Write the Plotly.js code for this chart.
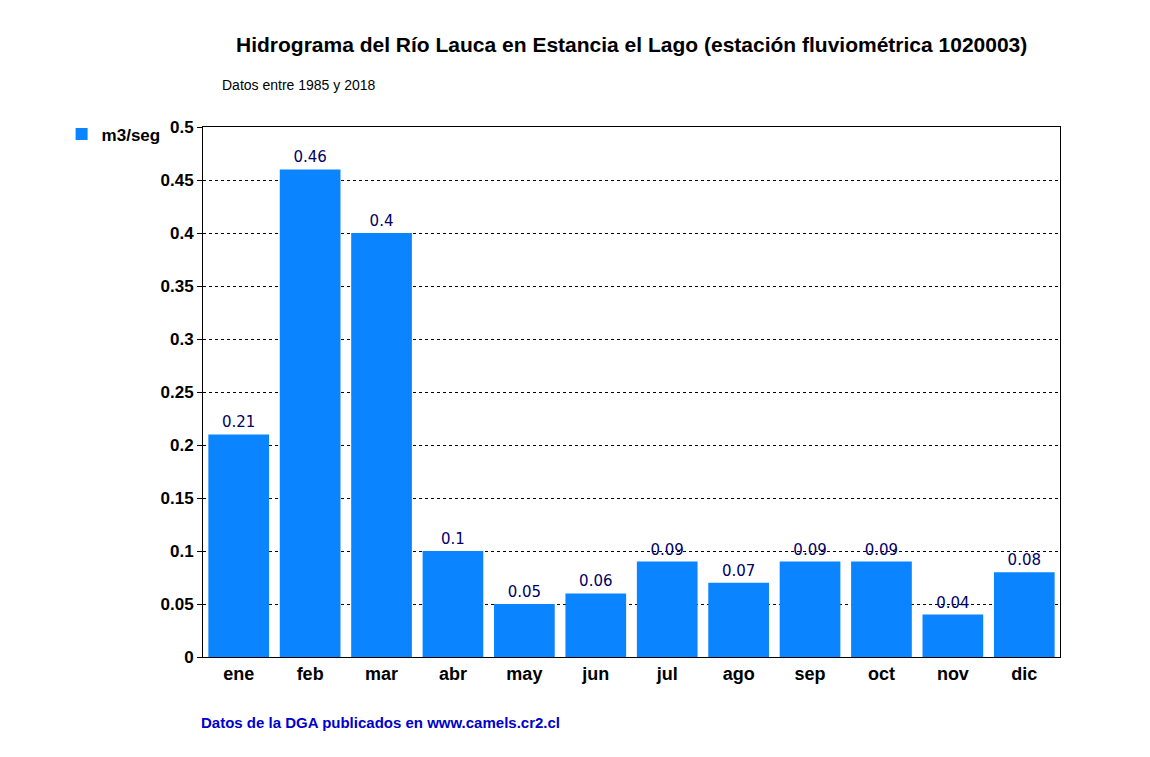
<!DOCTYPE html>
<html><head><meta charset="utf-8">
<script src="https://cdn.plot.ly/plotly-3.0.1.min.js"></script>
<style>body{margin:0;background:#fff}</style></head>
<body><div id="c" style="width:1150px;height:757px"></div>
<script>
const months = ["ene","feb","mar","abr","may","jun","jul","ago","sep","oct","nov","dic"];
const flows = [0.21,0.46,0.4,0.1,0.05,0.06,0.09,0.07,0.09,0.09,0.04,0.08];
const yTicks = [0,0.05,0.1,0.15,0.2,0.25,0.3,0.35,0.4,0.45,0.5];
const F = "Liberation Sans, Arial, sans-serif";
Plotly.newPlot("c",[{
  type:"bar", x:months, y:flows, name:"m3/seg",
  marker:{color:"#0a84ff"},
  text:flows.map(String), textposition:"outside", cliponaxis:false,
  textfont:{family:"DejaVu Sans, sans-serif", size:15, color:"#000066"}
}],{
  width:1150,height:757, paper_bgcolor:"#fff", plot_bgcolor:"#fff",
  margin:{l:203,r:90,t:127,b:100},
  bargap:0.15, showlegend:true,
  legend:{x:-0.165,y:1.02,xanchor:"left",yanchor:"top",font:{family:F,size:17,color:"#000",weight:"bold"}},
  xaxis:{showline:true,linecolor:"#000",mirror:true,ticks:"",tickfont:{family:F,size:18,color:"#000",weight:"bold"}},
  yaxis:{range:[0,0.5],tickvals:yTicks,ticktext:yTicks.map(String),showline:true,linecolor:"#000",mirror:true,
    gridcolor:"#000",griddash:"dot",gridwidth:1,ticks:"outside",ticklen:5,tickcolor:"#000",
    tickfont:{family:F,size:17,color:"#000",weight:"bold"},zeroline:false},
  annotations:[
    {text:"<b>Hidrograma del Río Lauca en Estancia el Lago (estación fluviométrica 1020003)</b>",xref:"paper",yref:"paper",x:0.5,y:1.155,xanchor:"center",yanchor:"middle",showarrow:false,font:{family:F,size:21,color:"#000"}},
    {text:"Datos entre 1985 y 2018",xref:"paper",yref:"paper",x:0.02,y:1.08,xanchor:"left",yanchor:"middle",showarrow:false,font:{family:F,size:14,color:"#000"}},
    {text:"<b>Datos de la DGA publicados en www.camels.cr2.cl</b>",xref:"paper",yref:"paper",x:-0.005,y:-0.123,xanchor:"left",yanchor:"middle",showarrow:false,font:{family:F,size:15,color:"#0000cc"}}
  ]
},{displayModeBar:false});
</script></body></html>
